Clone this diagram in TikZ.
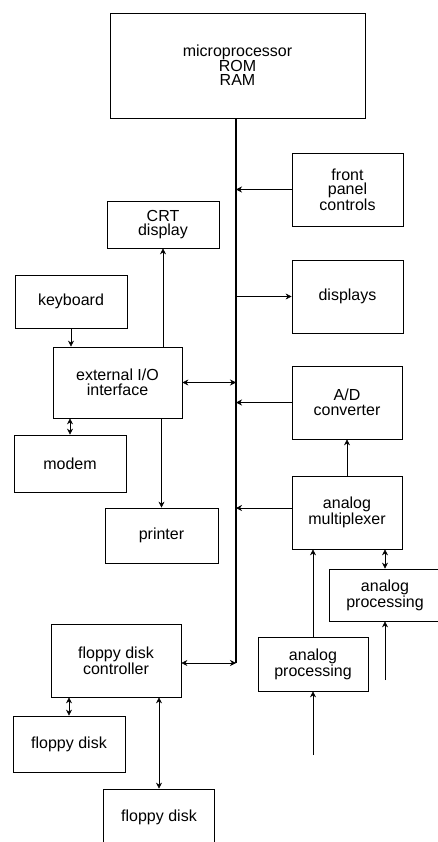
\documentclass[tikz,border=0pt]{standalone}
\usepackage{fontspec}
\setmainfont{Liberation Sans}
\usepackage{xcolor}
\usetikzlibrary{arrows.meta}

\begin{document}
\begin{tikzpicture}[x=1pt,y=-1pt,>={Stealth[length=6pt,width=6pt]},
  blk/.style={draw,line width=0.7pt,inner sep=0pt,align=center,
    font=\fontsize{16}{14.5}\selectfont},
  link/.style={line width=0.6pt},
  bus/.style={line width=1.3pt}]

\useasboundingbox (0,0) rectangle (438,842);
\clip (0,0) rectangle (438,842);

% processor and bus
\node[blk,minimum width=255,minimum height=105] (mp) at (237.5,65.5) {microprocessor\\ROM\\RAM};
\coordinate (busend) at (236,663);
\draw[bus] (mp.south -| busend) -- (busend);

% right column
\node[blk,minimum width=111,minimum height=73] (fpc) at (347.5,189.5) {front\\panel\\controls};
\node[blk,minimum width=111,minimum height=73] (disp) at (347.5,296.5) {displays};
\node[blk,minimum width=110,minimum height=73] (ad) at (347,402.5) {A/D\\converter};
\node[blk,minimum width=110,minimum height=73] (mux) at (347,512.5) {analog\\multiplexer};
\node[blk,minimum width=112,minimum height=52] (ap1) at (385,595) {analog\\processing};
\node[blk,minimum width=110,minimum height=54] (ap2) at (313,664) {analog\\processing};
\coordinate (ap1in) at (385,680);
\coordinate (ap2in) at (313,755);

\draw[link,->] (fpc.west) -- (fpc.west -| busend);
\draw[link,->] (disp.west -| busend) -- (disp.west);
\draw[link,->] (ad.west) -- (ad.west -| busend);
\draw[link,->] ([yshift=4.5pt]mux.west) -- ([yshift=4.5pt]mux.west -| busend);
\draw[link,->] (mux.north) -- (ad.south);
\draw[link,<->] (ap1.north) -- (ap1.north |- mux.south);
\draw[link,->] (ap2.north) -- (ap2.north |- mux.south);
\draw[link,->] (ap1in) -- (ap1.south);
\draw[link,->] (ap2in) -- (ap2.south);

% left column
\node[blk,minimum width=112,minimum height=47] (crt) at (163,224.5) {CRT\\display};
\node[blk,minimum width=112,minimum height=53] (kbd) at (71,301.5) {keyboard};
\node[blk,minimum width=129,minimum height=71] (extio) at (117.5,382.5) {external I/O\\interface};
\node[blk,minimum width=112,minimum height=57] (modem) at (70,463.5) {modem};
\node[blk,minimum width=113,minimum height=55] (prn) at (161.5,535.5) {printer};

\draw[link,->] (kbd.south) -- (kbd.south |- extio.north);
\draw[link,->] (crt.south |- extio.north) -- (crt.south);
\draw[link,<->] (extio.east) -- (extio.east -| busend);
\draw[link,<->] (modem.north) -- (modem.north |- extio.south);
\draw[link,->] (prn.north |- extio.south) -- (prn.north);

% floppy disks
\node[blk,minimum width=130,minimum height=73] (fdc) at (116,660.5) {floppy disk\\controller};
\node[blk,minimum width=112,minimum height=56] (fd1) at (69,744) {floppy disk};
\node[blk,minimum width=111,minimum height=56] (fd2) at (159,817) {floppy disk};

\draw[link,<->] ([yshift=-2.5pt]fdc.east) -- (busend);
\draw[link,<->] (fd1.north) -- (fd1.north |- fdc.south);
\draw[link,<->] (fd2.north) -- (fd2.north |- fdc.south);

\end{tikzpicture}
\end{document}
